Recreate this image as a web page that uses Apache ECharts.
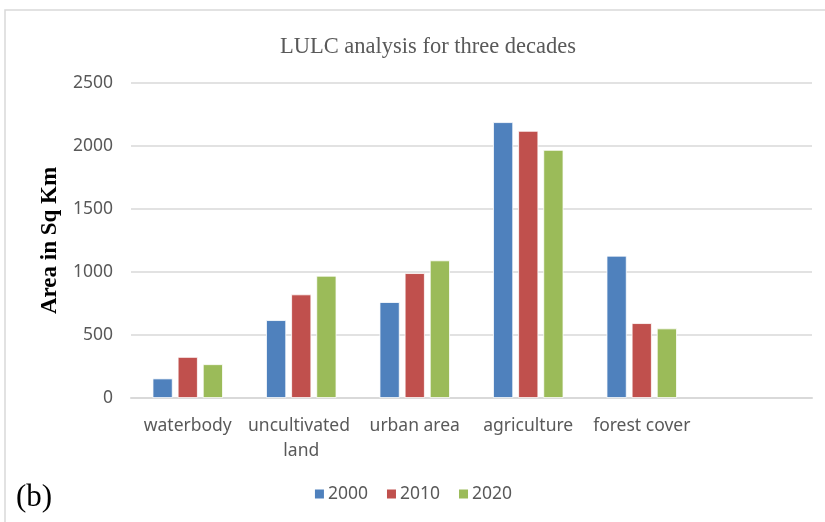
<!DOCTYPE html>
<html>
<head>
<meta charset="utf-8">
<script src="https://cdn.jsdelivr.net/npm/echarts@6/dist/echarts.min.js"></script>
<style>
  html, body { margin: 0; padding: 0; background: #fff; }
  #chart { width: 825px; height: 522px; }
</style>
</head>
<body>
<div id="chart"></div>
<script>
// Land use / land cover categories (last slot left empty on the axis)
const categories = ['waterbody', 'uncultivated land', 'urban area', 'agriculture', 'forest cover', ''];
const seriesNames = ['2000', '2010', '2020'];
const area2000 = [155, 618, 761, 2189, 1129, null];
const area2010 = [326, 822, 991, 2120, 594, null];
const area2020 = [268, 970, 1092, 1969, 552, null];
const yTicks = [0, 500, 1000, 1500, 2000, 2500];

const colors = ['#4F81BD', '#C0504D', '#9BBB59'];
const values = [area2000, area2010, area2020];
const labelFont = '"Noto Sans", sans-serif';
const serifFont = '"Liberation Serif", "Times New Roman", serif';

const chart = echarts.init(document.getElementById('chart'), null, { renderer: 'canvas' });

chart.setOption({
  animation: false,
  backgroundColor: '#ffffff',
  title: {
    text: 'LULC analysis for three decades',
    left: 423,
    top: 31,
    textAlign: 'center',
    textStyle: {
      fontFamily: serifFont,
      fontWeight: 'normal',
      fontSize: 22.5,
      color: '#595959'
    }
  },
  legend: {
    data: seriesNames,
    bottom: 14,
    left: 'center',
    icon: 'rect',
    itemWidth: 11,
    itemHeight: 11,
    itemGap: 17,
    textStyle: { fontFamily: labelFont, fontSize: 17.5, color: '#595959', padding: [0, 0, 0, -2] }
  },
  grid: { left: 131, right: 13, top: 83, bottom: 124, containLabel: false },
  xAxis: {
    type: 'category',
    data: categories,
    axisLine: { lineStyle: { color: '#d9d9d9', width: 2 } },
    axisTick: { show: false },
    axisLabel: {
      interval: 0,
      margin: 16,
      width: 112,
      overflow: 'break',
      lineHeight: 25,
      fontFamily: labelFont,
      fontSize: 17.5,
      color: '#595959'
    }
  },
  yAxis: {
    type: 'value',
    min: yTicks[0],
    max: yTicks[yTicks.length - 1],
    interval: yTicks[1] - yTicks[0],
    name: 'Area in Sq Km',
    nameLocation: 'middle',
    nameGap: 69,
    nameTextStyle: {
      fontFamily: serifFont,
      fontWeight: 'bold',
      fontSize: 23,
      color: '#000000'
    },
    axisLine: { show: false },
    axisTick: { show: false },
    splitLine: { lineStyle: { color: '#d9d9d9', width: 1.5 } },
    axisLabel: {
      margin: 18,
      formatter: (v) => String(v),
      fontFamily: labelFont,
      fontSize: 17.5,
      color: '#595959'
    }
  },
  series: seriesNames.map((name, i) => ({
    name: name,
    type: 'bar',
    data: values[i],
    barGap: '25%',
    barCategoryGap: '38%',
    itemStyle: { color: colors[i], borderColor: '#ffffff', borderWidth: 0.8 }
  })),
  graphic: [
    {
      type: 'rect',
      shape: { x: 5, y: 10, width: 840, height: 530 },
      style: { fill: 'none', stroke: '#d9d9d9', lineWidth: 1.5 },
      silent: true
    },
    {
      type: 'text',
      left: 16,
      top: 482,
      style: {
        text: '(b)',
        font: '31px "Liberation Serif", "Times New Roman", serif',
        fill: '#000000'
      }
    }
  ]
});
</script>
</body>
</html>
